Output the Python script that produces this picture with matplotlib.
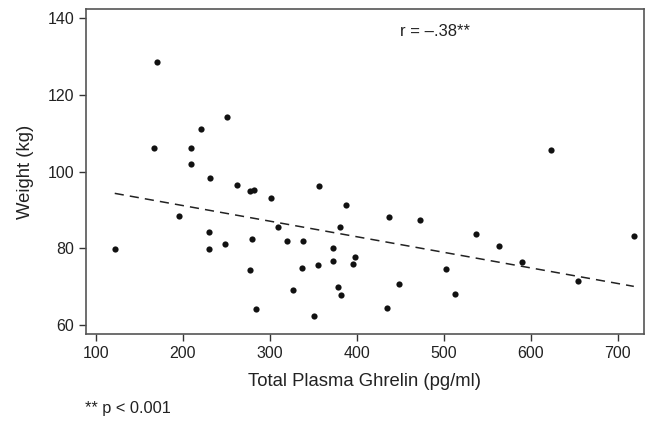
import numpy as np
import matplotlib
matplotlib.use("Agg")
import matplotlib.pyplot as plt

plt.rcParams['font.family'] = ['Liberation Sans', 'DejaVu Sans']

ghrelin = [170.6, 251.3, 220.8, 167.2, 209.3, 209.6, 231.5, 262.1, 277.7, 281.6,
           357.0, 301.5,
           195.9, 230.7, 230.7, 248.7, 122.0, 279.3, 277.4, 284.3, 309.9, 319.5,
           338.2, 326.4, 337.4, 351.2, 355.8, 387.2, 381.1, 372.3, 372.3, 378.1,
           381.5, 398.3, 396.0,
           437.0, 472.2, 448.1, 434.3, 502.8, 513.1, 536.9, 562.9, 589.7, 654.0,
           718.3, 623.3]
weight = [128.6, 114.2, 111.0, 106.3, 106.1, 101.9, 98.3, 96.6, 94.9, 95.2,
          96.3, 93.1,
          88.45, 84.4, 79.8, 81.1, 79.8, 82.4, 74.5, 64.1, 85.6, 82.0,
          82.0, 69.1, 74.8, 62.3, 75.6, 91.3, 85.6, 80.1, 76.8, 70.0,
          67.9, 77.7, 75.9,
          88.2, 87.4, 70.8, 64.5, 74.6, 68.0, 83.7, 80.7, 76.4, 71.6,
          83.2, 105.7]

x_ticks = [100, 200, 300, 400, 500, 600, 700]
y_ticks = [60, 80, 100, 120, 140]

fig = plt.figure(figsize=(6.51, 4.24), dpi=100)
ax = fig.add_axes([86/651, 1 - 334/424, (644 - 86)/651, (334 - 9)/424])

x = np.array(ghrelin)
y = np.array(weight)
ax.scatter(x, y, s=20, color='#111111', zorder=3, linewidths=0)

slope, intercept = np.polyfit(x, y, 1)
xl = np.array([x.min(), x.max()])
ax.plot(xl, slope * xl + intercept, linestyle=(0, (6, 4)), color='#222222', lw=1.1)

ax.set_xlim(89, 730)
ax.set_ylim(57.7, 142.4)
ax.set_xticks(x_ticks)
ax.set_yticks(y_ticks)
ax.tick_params(direction='out', length=5, width=1, colors='#333333', labelsize=11.5,
               labelcolor='#222222')
for s in ax.spines.values():
    s.set_color('#555555')
    s.set_linewidth(1.2)

ax.set_xlabel('Total Plasma Ghrelin (pg/ml)', fontsize=13.3, color='#222222', labelpad=9)
ax.set_ylabel('Weight (kg)', fontsize=13.3, color='#222222', labelpad=10)

ax.text(400/651, 1 - 32/424, 'r = \u2013.38**', transform=fig.transFigure,
        fontsize=12, color='#222222', ha='left', va='center')
fig.text(85/651, 1 - 409/424, '** p < 0.001', fontsize=11.8, color='#222222',
         ha='left', va='center')

fig.savefig('out.png', dpi=100)
